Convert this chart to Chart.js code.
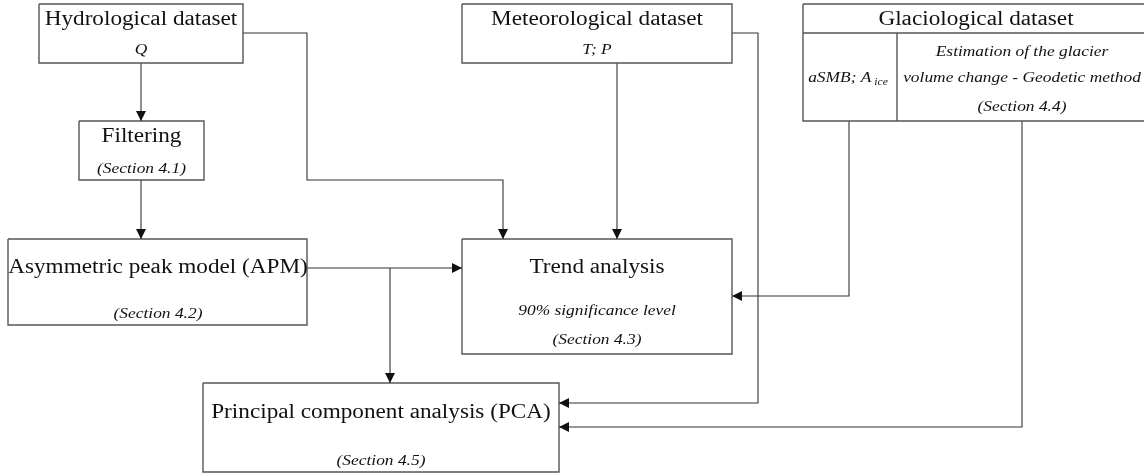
<!DOCTYPE html>
<html>
<head>
<meta charset="utf-8">
<script src="https://cdn.jsdelivr.net/npm/chart.js@4.4.0/dist/chart.umd.min.js"></script>
<style>
  html, body { margin: 0; padding: 0; background: #fff; }
  #wrap { width: 1144px; height: 473px; }
</style>
</head>
<body>
<div id="wrap"><canvas id="flow"></canvas></div>
<script>
// Boxes of the flow chart (names and texts)
const boxNames = ['hydro', 'filter', 'apm', 'met', 'trend', 'glacio', 'pca'];
const boxTitles = ['Hydrological dataset', 'Filtering', 'Asymmetric peak model (APM)',
    'Meteorological dataset', 'Trend analysis', 'Glaciological dataset',
    'Principal component analysis (PCA)'];
const boxNotes = ['Q', '(Section 4.1)', '(Section 4.2)', 'T; P',
    '90% significance level\n(Section 4.3)', '', '(Section 4.5)'];
const glacioCells = ['aSMB; A|ice', 'Estimation of the glacier\nvolume change - Geodetic method\n(Section 4.4)'];

// Layout in chart units (x: 0..1144, y: 0..473 top-down)
const boxRects = [
    [39, 4, 243, 63],
    [79, 121, 204, 180],
    [8, 239, 307, 325],
    [462, 4, 732, 63],
    [462, 239, 732, 354],
    [803, 4, 1150, 121],
    [203, 383, 559, 472]
];
const titleY = [20, 137, 268, 20, 268, 20, 413];
const noteY = [50, 169, 314, 50, 311, 0, 461];
const noteGap = 29;

// Connectors, arrow at last point
const links = [
    [[141, 63], [141, 121]],
    [[141, 180], [141, 239]],
    [[243, 33], [307, 33], [307, 180], [503, 180], [503, 239]],
    [[307, 268], [462, 268]],
    [[390, 268], [390, 383]],
    [[617, 63], [617, 239]],
    [[732, 33], [758, 33], [758, 403], [559, 403]],
    [[849, 121], [849, 296], [732, 296]],
    [[1022, 121], [1022, 427], [559, 427]]
];
const arrowHeads = [true, true, true, true, true, true, true, true, true];

const boxColor = '#555';
const lineColor = '#333';
const serif = '"Liberation Serif", "Times New Roman", serif';
const stretch = 1.16;

function rectPoints(r) {
    return [{x: r[0], y: r[1]}, {x: r[2], y: r[1]}, {x: r[2], y: r[3]}, {x: r[0], y: r[3]}, {x: r[0], y: r[1]}];
}

const datasets = [];
boxRects.forEach((r, i) => {
    datasets.push({
        label: boxNames[i],
        data: rectPoints(r),
        showLine: true,
        borderColor: boxColor,
        borderWidth: 1.4,
        pointRadius: 0,
        fill: false
    });
});
// Glaciological inner dividers
datasets.push({
    label: 'glacio-head',
    data: [{x: 803, y: 33}, {x: 1150, y: 33}],
    showLine: true, borderColor: boxColor, borderWidth: 1.4, pointRadius: 0
});
datasets.push({
    label: 'glacio-split',
    data: [{x: 897, y: 33}, {x: 897, y: 121}],
    showLine: true, borderColor: boxColor, borderWidth: 1.4, pointRadius: 0
});
links.forEach((l, i) => {
    datasets.push({
        label: 'link' + i,
        data: l.map(p => ({x: p[0], y: p[1]})),
        showLine: true,
        borderColor: lineColor,
        borderWidth: 1.1,
        pointRadius: 0,
        isLink: true,
        arrow: arrowHeads[i]
    });
});

function drawText(ctx, str, x, y, font) {
    ctx.save();
    ctx.font = font;
    ctx.translate(x, y);
    ctx.scale(stretch, 1);
    ctx.fillText(str, 0, 0);
    ctx.restore();
}

const flowPlugin = {
    id: 'flowText',
    afterDatasetsDraw(chart) {
        const ctx = chart.ctx;
        const xs = chart.scales.x, ys = chart.scales.y;
        const px = v => xs.getPixelForValue(v);
        const py = v => ys.getPixelForValue(v);

        // arrow heads
        ctx.save();
        ctx.fillStyle = '#111';
        chart.data.datasets.forEach(ds => {
            if (!ds.isLink || !ds.arrow) return;
            const n = ds.data.length;
            const a = ds.data[n - 2], b = ds.data[n - 1];
            const x1 = px(a.x), y1 = py(a.y), x2 = px(b.x), y2 = py(b.y);
            const ang = Math.atan2(y2 - y1, x2 - x1);
            const len = 10, half = 5;
            ctx.beginPath();
            ctx.moveTo(x2, y2);
            ctx.lineTo(x2 - len * Math.cos(ang) + half * Math.sin(ang), y2 - len * Math.sin(ang) - half * Math.cos(ang));
            ctx.lineTo(x2 - len * Math.cos(ang) - half * Math.sin(ang), y2 - len * Math.sin(ang) + half * Math.cos(ang));
            ctx.closePath();
            ctx.fill();
        });
        ctx.restore();

        // texts
        ctx.save();
        ctx.fillStyle = '#111';
        ctx.textAlign = 'center';
        ctx.textBaseline = 'middle';
        const titleFont = '20px ' + serif;
        const noteFont = 'italic 15px ' + serif;
        boxRects.forEach((r, i) => {
            let cx = (r[0] + r[2]) / 2;
            if (boxNames[i] === 'glacio') cx = 976;
            if (boxNames[i] === 'apm') cx = 158;
            drawText(ctx, boxTitles[i], px(cx), py(titleY[i]), titleFont);
            if (boxNotes[i]) {
                boxNotes[i].split('\n').forEach((line, k) => {
                    drawText(ctx, line, px(cx), py(noteY[i] + k * noteGap), noteFont);
                });
            }
        });

        // glaciological cells
        const parts = glacioCells[0].split('|');
        ctx.font = noteFont;
        const w1 = ctx.measureText(parts[0]).width * stretch;
        ctx.font = 'italic 10px ' + serif;
        const w2 = ctx.measureText(' ' + parts[1]).width * stretch;
        const start = px(848) - (w1 + w2) / 2;
        ctx.textAlign = 'left';
        drawText(ctx, parts[0], start, py(78), noteFont);
        drawText(ctx, ' ' + parts[1], start + w1, py(82), 'italic 10px ' + serif);
        ctx.textAlign = 'center';
        const glLines = glacioCells[1].split('\n');
        const glY = [52, 78, 107];
        glLines.forEach((line, k) => {
            drawText(ctx, line, px(1022), py(glY[k]), noteFont);
        });
        ctx.restore();
    }
};

new Chart(document.getElementById('flow'), {
    type: 'scatter',
    data: { datasets: datasets },
    options: {
        responsive: true,
        maintainAspectRatio: false,
        animation: false,
        layout: { padding: 0 },
        plugins: {
            legend: { display: false },
            tooltip: { enabled: false }
        },
        scales: {
            x: { type: 'linear', min: 0, max: 1144, display: false },
            y: { type: 'linear', min: 0, max: 473, reverse: true, display: false }
        }
    },
    plugins: [flowPlugin]
});
</script>
</body>
</html>
